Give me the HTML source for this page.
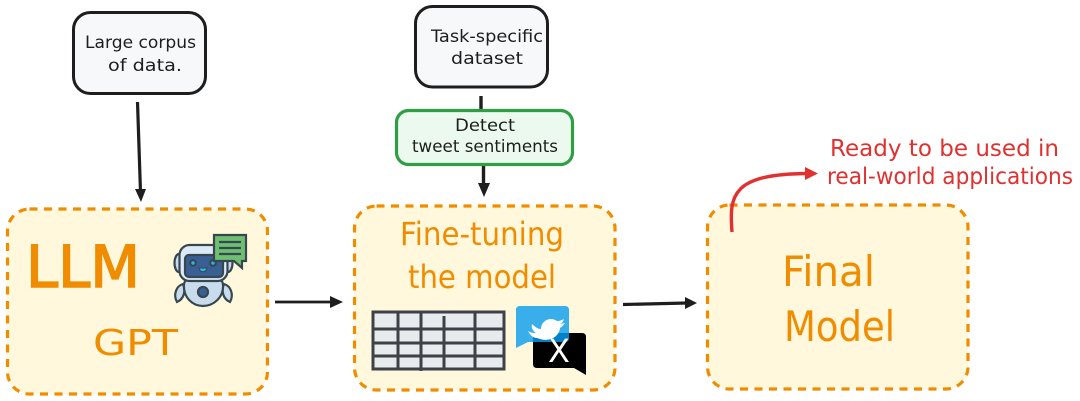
<!DOCTYPE html>
<html><head><meta charset="utf-8"><style>
html,body{margin:0;padding:0;background:#fff}
svg{display:block}
text{font-family:"DejaVu Sans","Liberation Sans",sans-serif}
</style></head><body>
<svg width="1080" height="401" viewBox="0 0 1080 401" xmlns="http://www.w3.org/2000/svg">
<!-- top boxes -->
<rect x="73.500" y="12.500" width="132" height="81" rx="17" fill="#f6f8f9" stroke="#1e1e1e" stroke-width="3"/>
<rect x="415.500" y="6.500" width="132" height="80.500" rx="17" fill="#f6f8f9" stroke="#1e1e1e" stroke-width="3"/>
<text x="85" y="48" font-size="17" fill="#1e1e1e" textLength="111" lengthAdjust="spacingAndGlyphs">Large corpus</text>
<text x="108" y="71" font-size="17" fill="#1e1e1e" textLength="74" lengthAdjust="spacingAndGlyphs">of data.</text>
<text x="431" y="42" font-size="17" fill="#1e1e1e" textLength="112" lengthAdjust="spacingAndGlyphs">Task-specific</text>
<text x="451" y="64" font-size="17" fill="#1e1e1e" textLength="72" lengthAdjust="spacingAndGlyphs">dataset</text>
<!-- connectors -->
<path d="M137.500 102L140.500 192" stroke="#1e1e1e" stroke-width="3.200" fill="none"/>
<path d="M135 189L146 189L141 202Z" fill="#1e1e1e"/>
<path d="M481 96V110" stroke="#1e1e1e" stroke-width="3.400" fill="none"/>
<path d="M483.500 166V186" stroke="#1e1e1e" stroke-width="3.400" fill="none"/>
<path d="M478 183L490 183L484 197Z" fill="#1e1e1e"/>
<path d="M275 302H334" stroke="#1e1e1e" stroke-width="2.800" fill="none"/>
<path d="M330 296L343 302L330 308Z" fill="#1e1e1e"/>
<path d="M623 304.500L687 303" stroke="#1e1e1e" stroke-width="3.200" fill="none"/>
<path d="M685 297L697 303L685 309Z" fill="#1e1e1e"/>
<!-- green box -->
<rect x="396.500" y="110.500" width="176" height="54" rx="12" fill="#ebf9ee" stroke="#2f9e44" stroke-width="3.200"/>
<text x="455" y="131" font-size="17" fill="#1e1e1e" textLength="60" lengthAdjust="spacingAndGlyphs">Detect</text>
<text x="412" y="152" font-size="17" fill="#1e1e1e" textLength="146" lengthAdjust="spacingAndGlyphs">tweet sentiments</text>
<!-- orange boxes -->
<g fill="#fff8dc" stroke="#f08c00" stroke-width="3.200" stroke-dasharray="8 6.500">
<rect x="7.500" y="209" width="260" height="185" rx="22"/>
<rect x="354.500" y="206" width="260.500" height="184" rx="22"/>
<rect x="707.500" y="205" width="260.500" height="184" rx="22"/>
</g>
<!-- orange labels -->
<text x="26" y="287" font-size="58" fill="#f08c00" stroke="#f08c00" stroke-width="1.500" textLength="114" lengthAdjust="spacingAndGlyphs">LLM</text>
<text x="93" y="355" font-size="36" fill="#f08c00" textLength="85" lengthAdjust="spacingAndGlyphs">GPT</text>
<text x="400" y="245" font-size="32" fill="#f08c00" textLength="164" lengthAdjust="spacingAndGlyphs">Fine-tuning</text>
<text x="408" y="288" font-size="32" fill="#f08c00" textLength="148" lengthAdjust="spacingAndGlyphs">the model</text>
<text x="782" y="286" font-size="42" fill="#f08c00" textLength="93" lengthAdjust="spacingAndGlyphs">Final</text>
<text x="784" y="341" font-size="42" fill="#f08c00" textLength="111" lengthAdjust="spacingAndGlyphs">Model</text>
<!-- red arrow and label -->
<path d="M732 232C729 195 732 174 808 173.500" stroke="#e03131" stroke-width="3.400" fill="none"/>
<path d="M805 167L818 173.500L805 180Z" fill="#e03131"/>
<text x="830" y="156" font-size="23" fill="#e03131" textLength="229" lengthAdjust="spacingAndGlyphs">Ready to be used in</text>
<text x="827" y="184" font-size="23" fill="#e03131" textLength="246" lengthAdjust="spacingAndGlyphs">real-world applications</text>
<!-- robot -->
<g stroke="#37474f" stroke-width="2.200">
<ellipse cx="179" cy="263" rx="4.500" ry="9" fill="#c9dcee"/>
<ellipse cx="228" cy="263" rx="4.500" ry="9" fill="#c9dcee"/>
<path d="M177 302C173 295 176 286 183 284C186 291 184 299 177 302Z" fill="#c9dcee"/>
<path d="M230 302C234 295 231 286 224 284C221 291 223 299 230 302Z" fill="#c9dcee"/>
<path d="M184 284C186 272 221 272 223 284C224 298 213 306 203 306C193 306 183 298 184 284Z" fill="#c9dcee"/>
<rect x="179.500" y="245" width="48" height="36" rx="10" fill="#dceaf7"/>
<rect x="185" y="255" width="38" height="22" rx="4" fill="#3a5f95"/>
<circle cx="203" cy="292" r="5" fill="#3a5f95"/>
<circle cx="193" cy="263" r="2.800" fill="#29b6e8"/>
<circle cx="213" cy="263" r="2.800" fill="#29b6e8"/>
<path d="M199 268H207C206 273 200 273 199 268Z" fill="#29b6e8" stroke-width="1"/>
<path d="M214 235H246V261H242V268L234 261H214Z" fill="#6fbf73"/>
<path d="M219 242H241M219 248H241M219 254H241" fill="none"/>
</g>
<!-- table -->
<rect x="373" y="312" width="131" height="57" fill="#e8ebee" stroke="#3c4248" stroke-width="3"/>
<path d="M373 329H504M373 343H504M373 356H504M398 312V369M421 312V371M444 316V369M475 312V369" stroke="#3c4248" stroke-width="3" fill="none"/>
<!-- bubbles -->
<path d="M520 306H565Q569 306 569 310V338Q569 342 565 342H528L516 348V310Q516 306 520 306Z" fill="#38aeea"/>
<path d="M537 333H582Q586 333 586 337V375L574 368H537Q533 368 533 364V337Q533 333 537 333Z" fill="#000"/>
<path d="M533 342H565Q569 342 569 338V333H533Z" fill="#0480c8"/>
<path d="M528 331C531 333 534 333 536 333C533 331 531 328 532 324C535 327 538 329 541 329C541 321 550 316 557 321C560 321 562 320 564 319C563 322 562 323 560 324C562 324 563 323 565 323C563 325 562 327 560 328C559 337 549 343 537 338C533 338 530 335 528 331Z" fill="#fff"/>
<text x="559" y="362" font-size="32" fill="#fff" text-anchor="middle">X</text>
</svg>
</body></html>
